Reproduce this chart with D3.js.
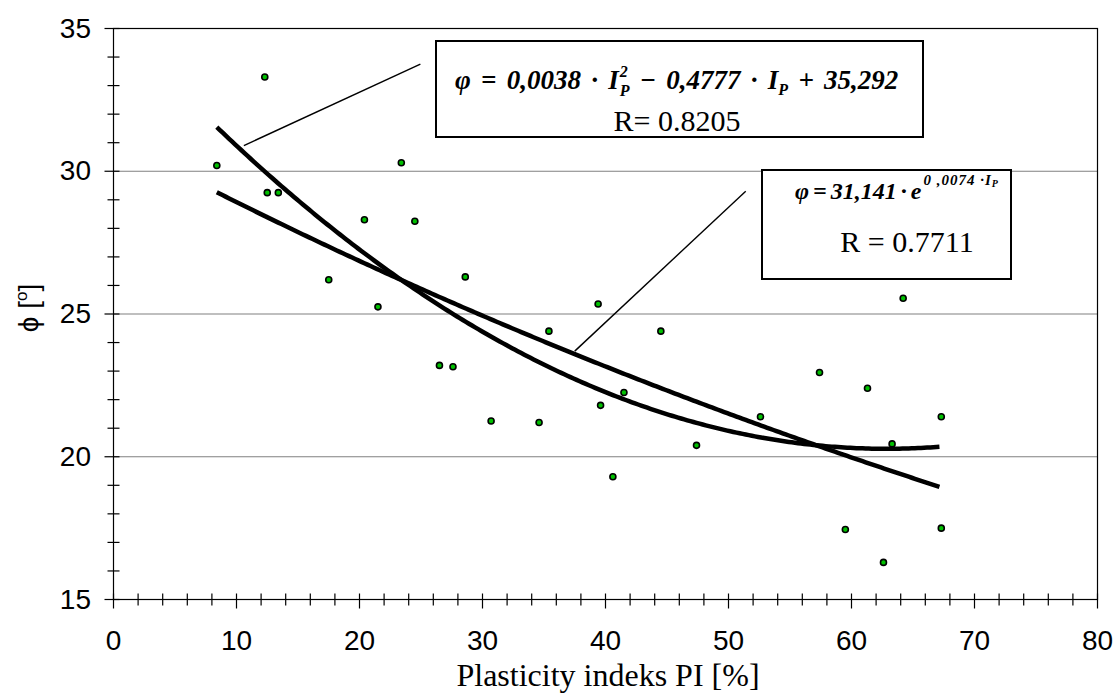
<!DOCTYPE html>
<html><head><meta charset="utf-8">
<script src="https://cdn.jsdelivr.net/npm/d3@7"></script>
<style>body{margin:0;background:#fff}</style>
</head><body>
<svg id="c" width="1115" height="695"></svg>
<script>
// ---- data ----
const plasticityIndex = [8.4, 12.3, 12.5, 13.4, 17.5, 20.4, 21.5, 23.4, 24.5, 26.5, 27.6, 28.6, 30.7, 34.6, 35.4, 39.4, 39.6, 40.6, 41.5, 44.5, 47.4, 52.6, 57.4, 59.5, 61.3, 62.6, 63.3, 64.2, 67.3, 67.3];
const frictionAngle  = [30.2, 33.3, 29.25, 29.25, 26.2, 28.3, 25.25, 30.3, 28.25, 23.2, 23.15, 26.3, 21.25, 21.2, 24.4, 25.35, 21.8, 19.3, 22.25, 24.4, 20.4, 21.4, 22.95, 17.45, 22.4, 16.3, 20.45, 25.55, 21.4, 17.5];
const xTickValues = [0, 10, 20, 30, 40, 50, 60, 70, 80];
const yTickValues = [15, 20, 25, 30, 35];
const gridValues = [20, 25, 30];
// trendline coefficients as printed on the chart
const quadCoef = [0.0038, -0.4777, 35.292];
const expCoef = [31.141, -0.0074];
const quadLabel = "R= 0.8205";
const expLabel = "R = 0.7711";
// leader lines: [x1,y1,x2,y2] in data units
const leaderQuad = [10.6, 30.9, 24.95, 33.75];
const leaderExp = [37.5, 23.7, 51.4, 29.3];

const svg = d3.select("#c");
const x = d3.scaleLinear().domain([0, 80]).range([113.5, 1097.5]);
const y = d3.scaleLinear().domain([15, 35]).range([599.5, 28.5]);

// grid
svg.selectAll("line.grid").data(gridValues).join("line")
  .attr("x1", x(0)).attr("x2", x(80)).attr("y1", d => y(d)).attr("y2", d => y(d))
  .attr("stroke", "#808080").attr("stroke-width", 1.2);

// frame
svg.append("rect").attr("x", x(0)).attr("y", y(35)).attr("width", x(80) - x(0)).attr("height", y(15) - y(35))
  .attr("fill", "none").attr("stroke", "#000").attr("stroke-width", 1.2);

// x ticks
const xMinor = d3.range(0, 81, 2);
svg.selectAll("line.xt").data(xMinor).join("line")
  .attr("x1", d => x(d)).attr("x2", d => x(d))
  .attr("y1", y(15) - 6).attr("y2", d => y(15) + (d % 10 === 0 ? 9 : 6))
  .attr("stroke", "#000").attr("stroke-width", 1.2);
svg.selectAll("text.xl").data(xTickValues).join("text")
  .attr("x", d => x(d)).attr("y", 650).attr("text-anchor", "middle")
  .attr("font-family", "Liberation Sans, Arial").attr("font-size", 28).text(d => d);

// y ticks
const yMinor = d3.range(15, 35.5, 1);
svg.selectAll("line.yt").data(yMinor).join("line")
  .attr("x1", d => x(0) - (d % 5 === 0 ? 9 : 6)).attr("x2", x(0) + 6)
  .attr("y1", d => y(d)).attr("y2", d => y(d))
  .attr("stroke", "#000").attr("stroke-width", 1.2);
svg.selectAll("text.yl").data(yTickValues).join("text")
  .attr("x", 91).attr("y", d => y(d) + 9).attr("text-anchor", "end")
  .attr("font-family", "Liberation Sans, Arial").attr("font-size", 28).text(d => d);

// axis titles
svg.append("text").attr("x", 608).attr("y", 686).attr("text-anchor", "middle")
  .attr("font-family", "Liberation Serif, Times New Roman").attr("font-size", 32)
  .text("Plasticity indeks PI [%]");
const yt = svg.append("text").attr("transform", "translate(38,308) rotate(-90)")
  .attr("text-anchor", "middle").attr("font-family", "Liberation Sans, Arial").attr("font-size", 28);
yt.append("tspan").text("ϕ  [");
yt.append("tspan").attr("font-size", 17).attr("dy", -11).text("o");
yt.append("tspan").attr("dy", 11).text("]");

// trendlines
const xs = d3.range(d3.min(plasticityIndex), d3.max(plasticityIndex) + 0.001, 0.25);
const quad = v => quadCoef[0] * v * v + quadCoef[1] * v + quadCoef[2];
const expf = v => expCoef[0] * Math.exp(expCoef[1] * v);
const line = d3.line().x(d => x(d[0])).y(d => y(d[1])).curve(d3.curveLinear);
svg.append("path").attr("d", line(xs.map(v => [v, quad(v)])))
  .attr("fill", "none").attr("stroke", "#000").attr("stroke-width", 4.5);
svg.append("path").attr("d", line(xs.map(v => [v, expf(v)])))
  .attr("fill", "none").attr("stroke", "#000").attr("stroke-width", 4.5);

// points
svg.selectAll("circle.pt").data(plasticityIndex).join("circle")
  .attr("cx", d => x(d)).attr("cy", (d, i) => y(frictionAngle[i])).attr("r", 3)
  .attr("fill", "#00c000").attr("stroke", "#000").attr("stroke-width", 1.6);

// leader lines
[leaderQuad, leaderExp].forEach(l => {
  svg.append("line").attr("x1", x(l[0])).attr("y1", y(l[1])).attr("x2", x(l[2])).attr("y2", y(l[3]))
    .attr("stroke", "#000").attr("stroke-width", 1.4);
});

// annotation boxes
svg.append("rect").attr("x", 436).attr("y", 41).attr("width", 487).attr("height", 96)
  .attr("fill", "#fff").attr("stroke", "#000").attr("stroke-width", 2);
svg.append("rect").attr("x", 762).attr("y", 170).attr("width", 249).attr("height", 109)
  .attr("fill", "#fff").attr("stroke", "#000").attr("stroke-width", 2);

const serif = "Liberation Serif, Times New Roman";
function eqText(x0, y0, size) {
  return svg.append("text").attr("x", x0).attr("y", y0)
    .attr("font-family", serif).attr("font-size", size).attr("font-weight", "bold").attr("font-style", "italic");
}
const e1 = eqText(455, 89, 27).attr("word-spacing", 3.5);
e1.append("tspan").text("φ = 0,0038 · I");
e1.append("tspan").attr("font-size", 16).attr("dy", -12).attr("dx", 1).text("2");
e1.append("tspan").attr("font-size", 16).attr("dx", -8).attr("dy", 19).text("P");
e1.append("tspan").attr("dy", -7).text(" − 0,4777 · I");
e1.append("tspan").attr("font-size", 16).attr("dy", 6).text("P");
e1.append("tspan").attr("dy", -6).text(" + 35,292");
svg.append("text").attr("x", 677).attr("y", 131).attr("text-anchor", "middle")
  .attr("font-family", serif).attr("font-size", 30).text(quadLabel);

const e2 = eqText(795, 199, 24).attr("word-spacing", -2);
e2.append("tspan").text("φ = 31,141 · e");
e2.append("tspan").attr("font-size", 15).attr("dy", -14).attr("dx", 2).attr("letter-spacing", 1).attr("word-spacing", 0).text("0 ,0074 ·I");
e2.append("tspan").attr("font-size", 10).attr("dy", 2).text("P");
svg.append("text").attr("x", 907).attr("y", 252).attr("text-anchor", "middle")
  .attr("font-family", serif).attr("font-size", 30).text(expLabel);
</script>
</body></html>
